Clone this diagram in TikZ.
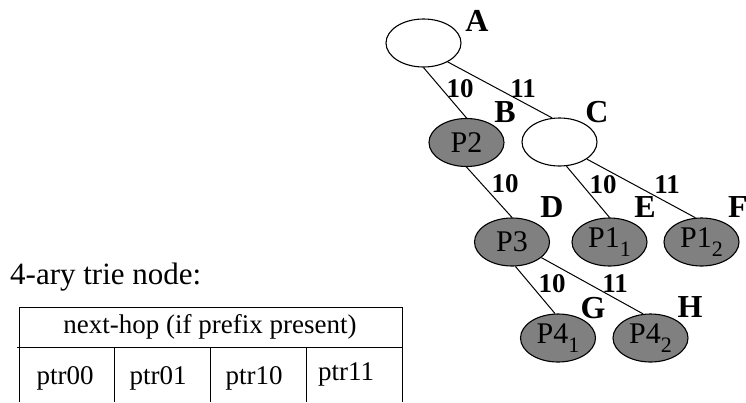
\documentclass[tikz,border=0pt]{standalone}
\usepackage{fontspec}
\setmainfont{Liberation Serif}
\usetikzlibrary{shapes.geometric}

\newcommand{\subidx}[1]{\raisebox{-9pt}{\fontsize{22}{22}\selectfont #1}}

\tikzset{
  trienode/.style={ellipse, draw=black, line width=1.1pt, minimum width=75pt,
    minimum height=48pt, inner sep=0pt, font=\fontsize{30}{32}\selectfont},
  emptynode/.style={trienode, fill=white},
  prefixnode/.style={trienode, fill=gray},
  nodename/.style={font=\fontsize{32}{34}\selectfont\bfseries, inner sep=0pt},
  bitlabel/.style={font=\fontsize{27}{29}\selectfont\bfseries, inner sep=0pt},
  branch/.style={line width=1pt, draw=black},
  cellline/.style={line width=1pt, draw=black},
  celltext/.style={font=\fontsize{27}{30}\selectfont, inner sep=0pt},
}

\begin{document}
\begin{tikzpicture}[x=1pt, y=-1pt]
  \useasboundingbox (0,0) rectangle (746,402);

  % trie nodes
  \node[emptynode]  (A) at (423.5,43)  {};
  \node[prefixnode] (B) at (466.5,142.5) {P2};
  \node[emptynode]  (C) at (559.5,142) {};
  \node[prefixnode] (D) at (512,242)   {P3};
  \node[prefixnode] (E) at (609.5,242) {P1\subidx{1}};
  \node[prefixnode] (F) at (701.5,242) {P1\subidx{2}};
  \node[prefixnode] (G) at (558,338)   {P4\subidx{1}};
  \node[prefixnode] (H) at (650.5,338) {P4\subidx{2}};

  % node names
  \node[nodename] (nA) at (477,21)  {A};
  \node[nodename] (nB) at (505,112) {B};
  \node[nodename] (nC) at (597,112) {C};
  \node[nodename] (nD) at (552,207) {D};
  \node[nodename] (nE) at (645,207) {E};
  \node[nodename] (nF) at (738,207) {F};
  \node[nodename] (nG) at (593,308) {G};
  \node[nodename] (nH) at (690,307) {H};

  % branches
  \draw[branch] (A.south) -- (B.north);
  \draw[branch] (A.-38)   -- (C.107);
  \draw[branch] (B.south) -- (D.north);
  \draw[branch] (C.-74)   -- (E.north);
  \draw[branch] (C.-32)   -- (F.104);
  \draw[branch] (D.-82)   -- (G.97);
  \draw[branch] (D.-28)   -- (H.107);

  % branch bits
  \node[bitlabel] (bAB) at (460,89)  {10};
  \node[bitlabel] (bAC) at (523,89)  {11};
  \node[bitlabel] (bBD) at (505,184) {10};
  \node[bitlabel] (bCE) at (603,185) {10};
  \node[bitlabel] (bCF) at (667,185) {11};
  \node[bitlabel] (bDG) at (552,284) {10};
  \node[bitlabel] (bDH) at (615,284) {11};

  % node layout
  \node[anchor=base west, inner sep=0pt, font=\fontsize{31}{33}\selectfont]
    (title) at (10,284) {4-ary trie node:};

  \draw[cellline] (19,402) -- (19,307) -- (402,307) -- (402,402);
  \draw[cellline] (17,347) -- (402,347);
  \draw[cellline] (114,347) -- (114,402);
  \draw[cellline] (210,347) -- (210,402);
  \draw[cellline] (306,347) -- (306,402);

  \node[celltext, font=\fontsize{27}{30}\selectfont] (hop) at (210,327)
    {next-hop (if prefix present)};
  \node[celltext, anchor=base] (p00) at (65,384) {ptr00};
  \node[celltext, anchor=base] (p01) at (158,384) {ptr01};
  \node[celltext, anchor=base] (p10) at (254,384) {ptr10};
  \node[celltext, anchor=base] (p11) at (346,380) {ptr11};
\end{tikzpicture}
\end{document}
